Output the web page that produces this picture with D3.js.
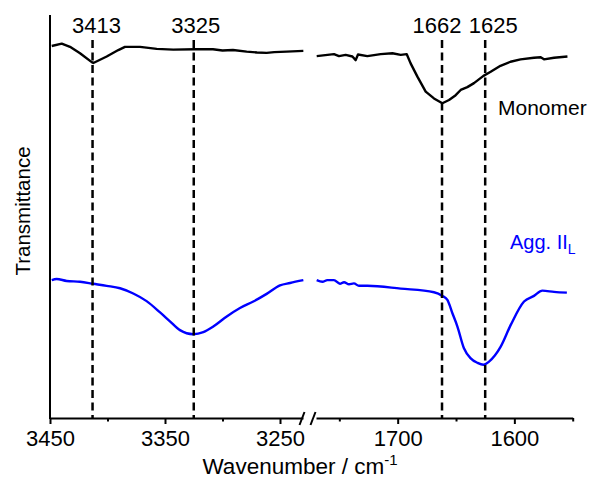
<!DOCTYPE html>
<html>
<head>
<meta charset="utf-8">
<script src="https://cdn.jsdelivr.net/npm/d3@7"></script>
<style>
  html, body { margin: 0; padding: 0; background: #fff; }
  svg { display: block; font-family: "Liberation Sans", Arial, sans-serif; }
</style>
</head>
<body>
<svg id="chart" width="593" height="482"></svg>
<script>
// IR spectra (transmittance, arbitrary units) in two wavenumber windows
const monoLeftWn = [3448.5, 3439.8, 3432.6, 3423.9, 3413.7, 3412.3, 3400.7, 3390.6, 3384.8, 3371.7, 3357.2, 3342.8, 3323.9, 3308.3, 3300, 3290.9, 3279, 3270, 3261.6, 3255, 3244.2, 3229.7];
const monoLeftT  = [92.3, 92.9, 92.1, 90.5, 88.3, 88.1, 89.7, 91.3, 92.1, 92.1, 91.6, 91.4, 91.5, 91.5, 91.2, 91.3, 90.9, 90.7, 90.6, 90.8, 90.9, 91.1];

const monoRightWn = [1769.4, 1754.6, 1750.3, 1744.6, 1738.8, 1736, 1734, 1726, 1714.6, 1704.5, 1697.4, 1692.3, 1688.9, 1683.1, 1676, 1668.9, 1661.7, 1656, 1650.3, 1646, 1640.3, 1634.6, 1626.5, 1620.3, 1611.9, 1603.3, 1594.7, 1583.2, 1577.4, 1574.6, 1566, 1554.5];
const monoRightT  = [89.8, 90.3, 89.8, 90.1, 89.7, 88.8, 90.2, 89.8, 90.3, 90.5, 90.1, 90.3, 88.0, 84.7, 81.0, 79.3, 78.1, 78.9, 80.1, 81.4, 82.1, 83.1, 84.9, 85.9, 87.4, 88.4, 89.0, 89.4, 89.5, 89.0, 89.4, 89.7];

const aggLeftWn = [3448.5, 3444.2, 3435.5, 3423.9, 3412.3, 3400.7, 3389.1, 3377.6, 3366, 3354.3, 3345.7, 3337, 3325.4, 3316.7, 3308, 3296.3, 3284.8, 3273.2, 3261.6, 3250, 3241.3, 3229.7];
const aggLeftT  = [34.2, 34.5, 34.0, 33.8, 33.3, 32.8, 32.2, 30.9, 29.0, 26.2, 24.0, 21.8, 20.8, 21.3, 22.7, 25.2, 27.3, 28.9, 30.8, 32.9, 33.5, 34.2];

const aggRightWn = [1769.4, 1764.5, 1760.3, 1754.6, 1749.5, 1746, 1741.7, 1737.5, 1733.2, 1726, 1697.4, 1668.9, 1661.7, 1657.4, 1653.1, 1648.8, 1643.2, 1637.4, 1631.7, 1626.5, 1621.7, 1611.7, 1603.1, 1591.7, 1583.2, 1576, 1566, 1555];
const aggRightT  = [34.2, 33.8, 34.2, 34.2, 33.3, 33.7, 33.2, 33.4, 32.8, 32.8, 32.1, 31.2, 30.3, 29.3, 26.0, 22.7, 17.3, 14.8, 13.7, 13.2, 14.0, 17.7, 23.1, 28.9, 30.3, 31.6, 31.3, 31.1];

// Peak markers
const peaksLeft  = [3413, 3325];
const peaksRight = [1662, 1625];

// Axis ticks
const leftMajor  = [3450, 3350, 3250];
const leftMinor  = [3400, 3300];
const rightMajor = [1700, 1600];
const rightMinor = [1750, 1650, 1550];

const svg = d3.select("#chart");

const yTop = 15, yBot = 418;
const xL = d3.scaleLinear().domain([3450, 3230]).range([50, 303]);
const xR = d3.scaleLinear().domain([1770, 1550]).range([316, 572.7]);
const y  = d3.scaleLinear().domain([0, 100]).range([yBot, yTop]);

const zip = (a, b) => a.map((v, i) => [v, b[i]]);

function drawLine(xs, wn, t, color, curve) {
  svg.append("path")
    .datum(zip(wn, t))
    .attr("fill", "none")
    .attr("stroke", color)
    .attr("stroke-width", 2.4)
    .attr("stroke-linejoin", "round")
    .attr("d", d3.line().curve(curve).x(d => xs(d[0])).y(d => y(d[1])));
}

drawLine(xL, monoLeftWn, monoLeftT, "#000", d3.curveLinear);
drawLine(xR, monoRightWn, monoRightT, "#000", d3.curveLinear);
drawLine(xL, aggLeftWn, aggLeftT, "#0000ff", d3.curveMonotoneX);
drawLine(xR, aggRightWn, aggRightT, "#0000ff", d3.curveMonotoneX);

// Dashed peak positions
const dashTop = 40;
function drawPeak(xs, wn, dx) {
  const px = xs(wn);
  svg.append("line")
    .attr("x1", px).attr("x2", px)
    .attr("y1", dashTop).attr("y2", yBot)
    .attr("stroke", "#000")
    .attr("stroke-width", 2.5)
    .attr("stroke-dasharray", "8,4.5");
  svg.append("text")
    .attr("x", px + dx).attr("y", 33)
    .attr("text-anchor", "middle")
    .attr("font-size", 22)
    .text(wn);
}
drawPeak(xL, peaksLeft[0], 4);
drawPeak(xL, peaksLeft[1], 2);
drawPeak(xR, peaksRight[0], -5);
drawPeak(xR, peaksRight[1], 8);

// Bottom axis, split in two windows
function drawAxis(xs, major, minor) {
  const gMaj = svg.append("g").attr("transform", `translate(0,${yBot})`)
    .call(d3.axisBottom(xs).tickValues(major).tickFormat(d3.format("d"))
      .tickSize(6).tickSizeOuter(0).tickPadding(6));
  gMaj.select(".domain").attr("stroke-width", 2);
  gMaj.selectAll(".tick line").attr("stroke-width", 2);
  gMaj.selectAll(".tick text")
    .attr("font-size", 22)
    .attr("font-family", "Liberation Sans, Arial, sans-serif")
    .attr("fill", "#000");
  const gMin = svg.append("g").attr("transform", `translate(0,${yBot})`)
    .call(d3.axisBottom(xs).tickValues(minor).tickSize(3.5).tickSizeOuter(0).tickFormat(""));
  gMin.select(".domain").remove();
  gMin.selectAll(".tick line").attr("stroke-width", 2);
}
drawAxis(xL, leftMajor, leftMinor);
drawAxis(xR, rightMajor, rightMinor);

// Axis break marks
[xL.range()[1] - 1, xR.range()[0] - 3].forEach(bx => {
  svg.append("line")
    .attr("x1", bx - 2.5).attr("y1", yBot + 7)
    .attr("x2", bx + 2.5).attr("y2", yBot - 6)
    .attr("stroke", "#000").attr("stroke-width", 2);
});

// Left axis line
svg.append("line")
  .attr("x1", xL.range()[0]).attr("x2", xL.range()[0])
  .attr("y1", yTop).attr("y2", yBot + 1)
  .attr("stroke", "#000").attr("stroke-width", 2);

// Axis titles
const xt = svg.append("text")
  .attr("x", 300).attr("y", 474)
  .attr("text-anchor", "middle")
  .attr("font-size", 22.5);
xt.append("tspan").text("Wavenumber / cm");
xt.append("tspan").attr("dy", -9).attr("font-size", 15).text("-1");

svg.append("text")
  .attr("transform", "translate(30,211) rotate(-90)")
  .attr("text-anchor", "middle")
  .attr("font-size", 20.5)
  .text("Transmittance");

// Series labels
svg.append("text")
  .attr("x", 498).attr("y", 115)
  .attr("font-size", 21)
  .text("Monomer");

const al = svg.append("text")
  .attr("x", 510).attr("y", 249)
  .attr("font-size", 20)
  .attr("fill", "#0000ff");
al.append("tspan").text("Agg. II");
al.append("tspan").attr("dy", 5).attr("font-size", 14).text("L");
</script>
</body>
</html>
